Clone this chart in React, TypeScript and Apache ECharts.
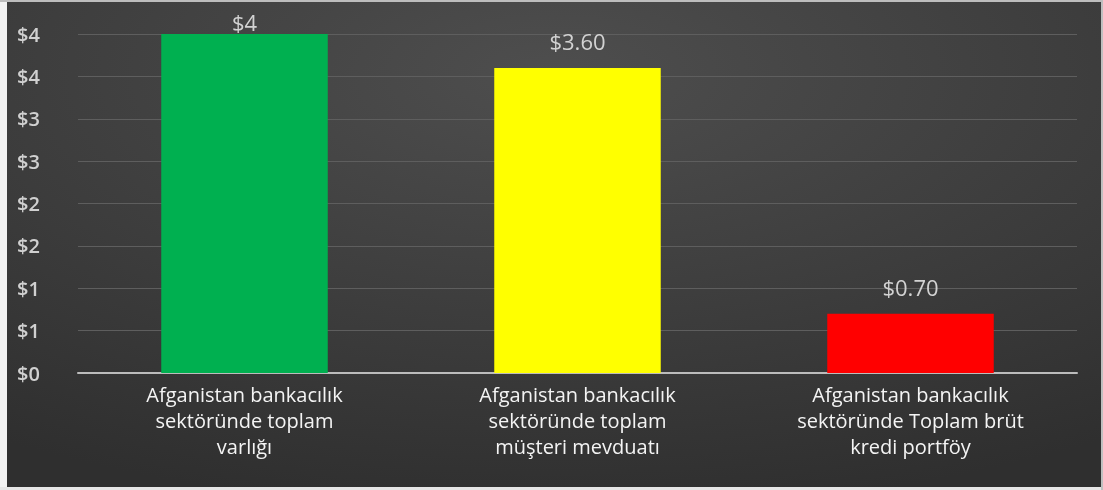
import React, { useEffect, useRef } from "react";
import * as echarts from "echarts";

const categories = [
  "Afganistan bankacılık\nsektöründe toplam\nvarlığı",
  "Afganistan bankacılık\nsektöründe toplam\nmüşteri mevduatı",
  "Afganistan bankacılık\nsektöründe Toplam brüt\nkredi portföy",
];
const values = [4, 3.6, 0.7];
const valueLabels = ["$4", "$3.60", "$0.70"];
const barColors = ["#00b050", "#ffff00", "#ff0000"];
const yTickLabels = ["$0", "$1", "$1", "$2", "$2", "$3", "$3", "$4", "$4"];

export default function App() {
  const ref = useRef<HTMLDivElement>(null);
  useEffect(() => {
    if (!ref.current) return;
    const chart = echarts.init(ref.current, null, { renderer: "svg" });
    chart.setOption({
      animation: false,
      backgroundColor: {
        type: "radial",
        x: 0.5,
        y: 0.15,
        r: 0.9,
        colorStops: [
          { offset: 0, color: "#4e4e4e" },
          { offset: 1, color: "#2f2f2f" },
        ],
      },
      graphic: [
        { type: "rect", left: 0, top: 0, shape: { width: 7, height: 490 }, style: { fill: "#f2f2f2" } },
        { type: "rect", left: 0, top: 0, shape: { width: 1103, height: 2 }, style: { fill: "#bdbdbd" } },
        { type: "rect", left: 0, top: 487, shape: { width: 1103, height: 3 }, style: { fill: "#e6e6e6" } },
        { type: "rect", left: 1101, top: 0, shape: { width: 2, height: 490 }, style: { fill: "#bfbfbf" } },
      ],
      grid: { left: 78, right: 26, top: 34, bottom: 117 },
      xAxis: {
        type: "category",
        data: categories,
        axisTick: { show: false },
        axisLine: { lineStyle: { color: "#bcbcbc", width: 2 } },
        axisLabel: {
          color: "#f4f4f4",
          fontFamily: "Open Sans",
          fontSize: 20,
          lineHeight: 26,
          margin: 8,
          interval: 0,
        },
      },
      yAxis: {
        type: "value",
        min: 0,
        max: 4,
        interval: 0.5,
        axisLine: { show: false },
        axisTick: { show: false },
        splitLine: { lineStyle: { color: "#5e5e5e", width: 1 } },
        axisLabel: {
          color: "#d0d0d0",
          fontFamily: "Open Sans",
          fontSize: 20,
          fontWeight: 600,
          margin: 61,
          align: "left",
          formatter: (_v: number, i: number) => yTickLabels[i],
        },
      },
      series: [
        {
          type: "bar",
          barWidth: "50%",
          data: values.map((v, i) => ({
            value: v,
            itemStyle: { color: barColors[i] },
            label: i === 0 ? { distance: 1 } : undefined,
          })),
          label: {
            show: true,
            position: "top",
            distance: 16,
            color: "#d2d2d2",
            fontFamily: "Open Sans",
            fontSize: 22,
            formatter: (p: any) => valueLabels[p.dataIndex],
          },
        },
      ],
    });
    return () => chart.dispose();
  }, []);
  return (
    <div
      ref={ref}
      style={{ position: "fixed", left: 0, top: 0, width: 1103, height: 490 }}
    />
  );
}
